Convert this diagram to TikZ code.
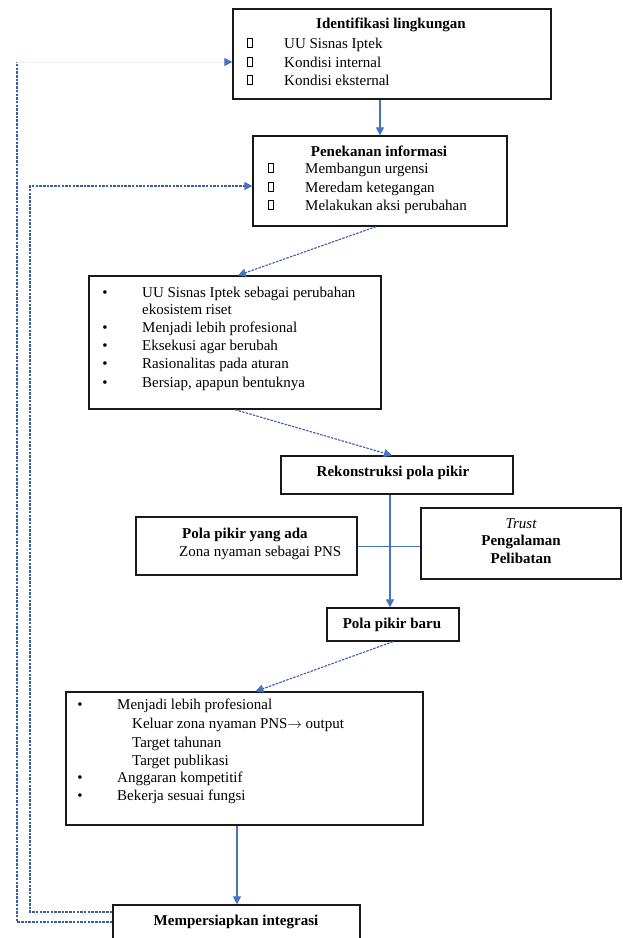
\documentclass[tikz,border=0pt]{standalone}
\usepackage{fontspec}
\setmainfont{Liberation Serif}
\usetikzlibrary{arrows.meta,calc}
\definecolor{lnblue}{HTML}{4472C4}
\definecolor{fbblue}{HTML}{3A5DA8}
\begin{document}
\begin{tikzpicture}[x=1pt,y=-1pt,
  box/.style={draw=black!90,line width=1.3pt,inner sep=0pt,rectangle},
  txt/.style={inner sep=0pt,anchor=base west,font=\fontsize{15}{18}\selectfont},
  btxt/.style={txt,font=\fontsize{15}{18}\selectfont\bfseries},
  ttl/.style={inner sep=0pt,anchor=base,font=\fontsize{15}{18}\selectfont\bfseries},
  sq/.style={draw=black,line width=0.6pt,minimum width=5pt,minimum height=9pt,inner sep=0pt},
  bul/.style={inner sep=0pt,anchor=base,font=\fontsize{15}{18}\selectfont},
  solidarrow/.style={draw=lnblue,line width=1.2pt,-{Triangle[length=8pt,width=8pt]}},
  fbline/.style={draw=fbblue,line width=1.1pt,dash pattern=on 2.5pt off 1.2pt},
  fbarrow/.style={fbline,-{Triangle[length=8pt,width=8pt,color=lnblue,fill=lnblue]}},
]
\fill[white] (0,0) rectangle (622,938);
\useasboundingbox (0,0) rectangle (622,938);
\clip (0,0) rectangle (622,938);

% boxes
\node[box,minimum width=318pt,minimum height=90pt] (b1) at (392,54) {};
\node[box,minimum width=254pt,minimum height=90pt] (b2) at (380,181) {};
\node[box,minimum width=292pt,minimum height=133pt] (b3) at (235,342.5) {};
\node[box,minimum width=232pt,minimum height=38pt] (b4) at (397,475) {};
\node[box,minimum width=221pt,minimum height=58pt] (b5) at (246.5,546) {};
\node[box,minimum width=200pt,minimum height=71pt] (b6) at (521,543.5) {};
\node[box,minimum width=132pt,minimum height=33pt] (b7) at (393,624.5) {};
\node[box,minimum width=357pt,minimum height=133pt] (b8) at (244.5,758.5) {};
\node[box,minimum width=247pt,minimum height=45pt] (b9) at (236.5,927.5) {};

% box 1 text
\node[ttl] (t1) at (391,28) {Identifikasi lingkungan};
\node[sq] (s11) at (249.5,43) {};
\node[sq] (s12) at (249.5,62) {};
\node[sq] (s13) at (249.5,80) {};
\node[txt] (t11) at (284,48) {UU Sisnas Iptek};
\node[txt] (t12) at (284,67) {Kondisi internal};
\node[txt] (t13) at (284,85) {Kondisi eksternal};

% box 2 text
\node[ttl] (t2) at (379,156) {Penekanan informasi};
\node[sq] (s21) at (270.5,168) {};
\node[sq] (s22) at (270.5,187) {};
\node[sq] (s23) at (270.5,205) {};
\node[txt] (t21) at (305,173) {Membangun urgensi};
\node[txt] (t22) at (305,192) {Meredam ketegangan};
\node[txt] (t23) at (305,210) {Melakukan aksi perubahan};

% box 3 text
\node[bul] (u31) at (105,297) {\textbullet};
\node[bul] (u32) at (105,332) {\textbullet};
\node[bul] (u33) at (105,350) {\textbullet};
\node[bul] (u34) at (105,368) {\textbullet};
\node[bul] (u35) at (105,387) {\textbullet};
\node[txt] (t31) at (142,297) {UU Sisnas Iptek sebagai perubahan};
\node[txt] (t31b) at (142,314) {ekosistem riset};
\node[txt] (t32) at (142,332) {Menjadi lebih profesional};
\node[txt] (t33) at (142,350) {Eksekusi agar berubah};
\node[txt] (t34) at (142,368) {Rasionalitas pada aturan};
\node[txt] (t35) at (142,387) {Bersiap, apapun bentuknya};

% box 4
\node[ttl] (t4) at (393,476) {Rekonstruksi pola pikir};

% box 5
\node[btxt] (t51) at (182,538) {Pola pikir yang ada};
\node[txt] (t52) at (179,556) {Zona nyaman sebagai PNS};

% box 6
\node[bul] (t61) at (521,528) {\itshape Trust};
\node[ttl] (t62) at (521,545) {Pengalaman};
\node[ttl] (t63) at (521,563) {Pelibatan};

% box 7
\node[ttl] (t7) at (392,628) {Pola pikir baru};

% box 8
\node[bul] (u81) at (80,709) {\textbullet};
\node[bul] (u82) at (80,782) {\textbullet};
\node[bul] (u83) at (80,800) {\textbullet};
\node[txt] (t81) at (117,709) {Menjadi lebih profesional};
\node[txt] (t81a) at (132,728) {Keluar zona nyaman PNS$\rightarrow$ output};
\node[txt] (t81b) at (132,747) {Target tahunan};
\node[txt] (t81c) at (132,765) {Target publikasi};
\node[txt] (t82) at (117,782) {Anggaran kompetitif};
\node[txt] (t83) at (117,800) {Bekerja sesuai fungsi};

% box 9
\node[ttl] (t9) at (236,925) {Mempersiapkan integrasi};

% solid connectors
\draw[solidarrow] ([xshift=-12pt]b1.south) -- (b2.north);
\draw[solidarrow] ([xshift=-7pt]b4.south) -- ([xshift=-3pt]b7.north);
\draw[solidarrow] ([xshift=-7.5pt]b8.south) -- ([xshift=0.5pt]b9.north);
\draw[draw=lnblue,line width=1pt] (b5.east) -- (b5.east -| b6.west);

% dashed connectors
\draw[fbarrow] ([xshift=-4pt]b2.south) -- ([xshift=3pt]b3.north);
\draw[fbarrow] (b3.south) -- ([xshift=-5pt]b4.north);
\draw[fbarrow] (b7.south) -- ([xshift=11pt]b8.north);

% feedback lines
\coordinate (fi) at (30,186);
\coordinate (fo) at (17,62);
\draw[fbarrow] ([yshift=15.5pt]b9.west) -| (fi) -- ([yshift=-5pt]b2.west);
\draw[fbline] ([yshift=5.5pt]b9.west) -| (fo);
\draw[draw=fbblue!8,line width=1pt,-{Triangle[length=8pt,width=8pt,color=lnblue,fill=lnblue]}] (fo) -- ([yshift=-8pt]b1.west);
\end{tikzpicture}
\end{document}
